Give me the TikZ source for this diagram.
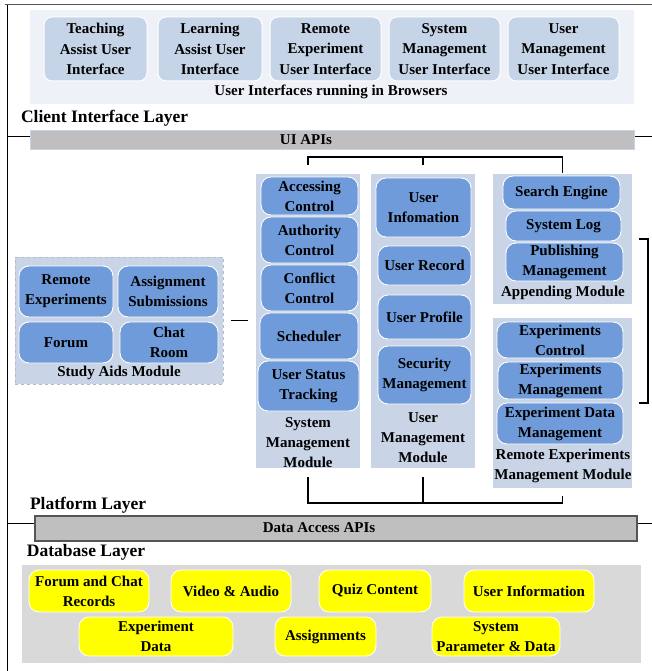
\documentclass[tikz,border=0pt]{standalone}
\usepackage{fontspec}
\setmainfont{Liberation Serif}
\definecolor{toppanelc}{HTML}{EEF2F8}
\definecolor{uiboxc}{HTML}{C6D4E7}
\definecolor{modpanelc}{HTML}{C9D5E6}
\definecolor{modboxc}{HTML}{6F9BDA}
\definecolor{apibarc}{HTML}{BFBFBF}
\definecolor{dbpanelc}{HTML}{D9D9D9}
\definecolor{dbboxc}{HTML}{FFFF00}
\definecolor{framec}{HTML}{555555}

\tikzset{
  every node/.style={font=\fontsize{15}{20}\selectfont\bfseries, align=center,
                     inner sep=0pt, outer sep=0pt, text=black},
  toppanel/.style={fill=toppanelc, draw=none},
  uibox/.style={fill=uiboxc, draw=white, line width=1pt, rounded corners=8pt,
                font=\fontsize{15}{20.5}\selectfont\bfseries},
  modpanel/.style={fill=modpanelc, draw=none},
  studypanel/.style={fill=modpanelc, draw=modpanelc!70!gray, dashed, line width=0.6pt},
  modbox/.style={fill=modboxc, draw=white, line width=0.9pt, rounded corners=10pt},
  apibar/.style={fill=apibarc, draw=uiboxc, line width=0.8pt},
  databar/.style={fill=apibarc, draw=framec, line width=1.4pt},
  dbpanel/.style={fill=dbpanelc, draw=none},
  dbbox/.style={fill=dbboxc, draw=white, line width=0.9pt, rounded corners=10pt},
  layer/.style={font=\fontsize{17.5}{20}\selectfont\bfseries, anchor=west},
  caption/.style={},
  link/.style={draw=black, line width=1.2pt},
  rule/.style={draw=black, line width=1pt}
}

% node filling the rectangle (x1,y1)-(x2,y2), y measured downwards
\newcommand\areanode[7]{%
  \pgfmathsetmacro\arX{(#3+#5)/2}\pgfmathsetmacro\arY{(#4+#6)/2}%
  \pgfmathsetmacro\arW{#5-#3}\pgfmathsetmacro\arH{#6-#4}%
  \node[#2, minimum width=\arW pt, minimum height=\arH pt] (#1) at (\arX,\arY) {#7};}

\begin{document}
\begin{tikzpicture}[x=1pt, y=-1pt]
\useasboundingbox (0,0) rectangle (652,671);
\fill[white] (0,0) rectangle (652,671);

% frame and layer separators
\draw[draw=framec, line width=1pt] (5,5) -- (652,5);
\draw[rule] (7,5) -- (7,671);
\draw[rule] (7,137) -- (652,137);
\draw[rule] (7,523) -- (652,523);

% ---------------- client interface layer ----------------
\areanode{uipanel}{toppanel}{30}{10}{634}{104}{}
\areanode{ui1}{uibox}{44}{17}{147}{81}{Teaching\\Assist User\\Interface}
\areanode{ui2}{uibox}{158}{17}{262}{81}{Learning\\Assist User\\Interface}
\areanode{ui3}{uibox}{270}{17}{381}{81}{Remote\\Experiment\\User Interface}
\areanode{ui4}{uibox}{389}{17}{500}{81}{System\\Management\\User Interface}
\areanode{ui5}{uibox}{508}{17}{619}{81}{User\\Management\\User Interface}
\node[caption] (uicap) at (331,92) {User Interfaces running in Browsers};
\node[layer] (cil) at (21,118) {Client Interface Layer};

\areanode{uiapi}{apibar}{30}{130}{634}{149}{}
\node (uiapitxt) at (306,140) {UI APIs};

% ---------------- platform layer ----------------
% study aids
\areanode{sa}{studypanel}{15}{257}{223}{384}{}
\areanode{sa1}{modbox}{19}{266}{113}{317}{Remote\\Experiments}
\areanode{sa2}{modbox}{118}{266}{218}{317}{Assignment\\Submissions}
\areanode{sa3}{modbox}{19}{322}{113}{363}{Forum}
\areanode{sa4}{modbox}{120}{322}{218}{363}{Chat\\Room}
\node[caption] (sacap) at (119,373) {Study Aids Module};

% system management
\areanode{sm}{modpanel}{256}{174}{360}{468}{}
\areanode{sm1}{modbox}{261}{177}{358}{215}{Accessing\\Control}
\areanode{sm2}{modbox}{261}{217}{358}{263}{Authority\\Control}
\areanode{sm3}{modbox}{261}{265}{358}{311}{Conflict\\Control}
\areanode{sm4}{modbox}{260}{313}{358}{359}{Scheduler}
\areanode{sm5}{modbox}{258}{361}{359}{411}{User Status\\Tracking}
\node[caption] (smcap) at (308,443) {System\\Management\\Module};

% user management
\areanode{um}{modpanel}{371}{174}{475}{468}{}
\areanode{um1}{modbox}{376}{178}{471}{237}{User\\Infomation}
\areanode{um2}{modbox}{378}{246}{471}{285}{User Record}
\areanode{um3}{modbox}{378}{295}{471}{339}{User Profile}
\areanode{um4}{modbox}{378}{346}{471}{404}{Security\\Management}
\node[caption] (umcap) at (423,438) {User\\Management\\Module};

% appending module
\areanode{app}{modpanel}{493}{174}{632}{304}{}
\areanode{ap1}{modbox}{503}{176}{620}{209}{Search Engine}
\areanode{ap2}{modbox}{506}{211}{621}{241}{System Log}
\areanode{ap3}{modbox}{506}{243}{623}{281}{Publishing\\Management}
\node[caption] (appcap) at (563,293) {Appending Module};

% remote experiments management
\areanode{rem}{modpanel}{493}{318}{632}{488}{}
\areanode{re1}{modbox}{497}{322}{623}{358}{Experiments\\Control}
\areanode{re2}{modbox}{498}{362}{623}{399}{Experiments\\Management}
\areanode{re3}{modbox}{497}{403}{623}{444}{Experiment Data\\Management}
\node[caption] (remcap) at (563,466) {Remote Experiments\\Management Module};

% connectors between modules
\draw[link] ([yshift=9pt]sm.north) -- ++(0,-8) -| ([yshift=1pt]app.north);
\draw[link] ([yshift=9pt]um.north) -- ++(0,-8);
\draw[link] ([yshift=-9pt]sm.south) -- ++(0,26) -| ([yshift=-8pt]rem.south);
\draw[link] ([yshift=-9pt]um.south) -- ++(0,26);
\draw[link] ([xshift=8pt]sa.east) -- ([xshift=-8pt]sa.east -| sm.west);
\coordinate (brtop) at (639,239);
\coordinate (brbot) at (639,403);
\draw[link] (brtop) -- ++(9,0) |- (brbot);

\node[layer] (pl) at (30,505) {Platform Layer};

\areanode{daapi}{databar}{35}{516}{637}{541}{}
\node (daapitxt) at (319,528) {Data Access APIs};

% ---------------- database layer ----------------
\node[layer] (dbl) at (27,552) {Database Layer};
\areanode{db}{dbpanel}{22}{565}{641}{663}{}
\areanode{db1}{dbbox}{29}{570}{149}{612}{Forum and Chat\\Records}
\areanode{db2}{dbbox}{171}{570}{291}{612}{Video \& Audio}
\areanode{db3}{dbbox}{319}{570}{431}{612}{Quiz Content}
\areanode{db4}{dbbox}{464}{570}{594}{612}{User Information}
\areanode{db5}{dbbox}{79}{617}{233}{656}{Experiment\\Data}
\areanode{db6}{dbbox}{275}{617}{376}{656}{Assignments}
\areanode{db7}{dbbox}{432}{617}{560}{656}{System\\Parameter \& Data}
\end{tikzpicture}
\end{document}
